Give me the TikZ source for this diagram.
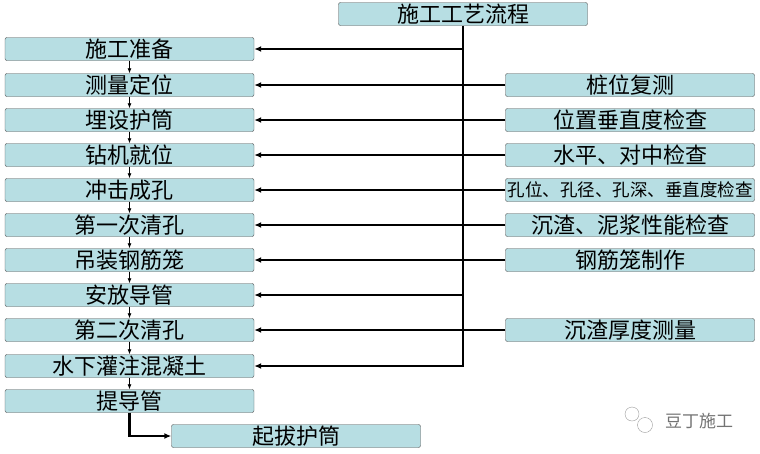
\documentclass[tikz,border=0pt]{standalone}
\usepackage{fontspec}
\usetikzlibrary{arrows.meta}
\newfontfamily\cjk{Noto Sans CJK SC}
\definecolor{boxblue}{RGB}{183,222,227}

\tikzset{
  box/.style={draw=black!70,rounded corners=2pt,fill=boxblue,
    minimum width=249,minimum height=23,inner sep=0pt,
    font=\cjk\fontsize{22}{22}\selectfont},
  main/.style={line width=2.3pt,-{Latex[length=7pt,width=6pt]}},
  thin/.style={line width=0.8pt,-{Latex[length=5pt,width=4pt]}}
}

\begin{document}
\begin{tikzpicture}[x=1pt,y=-1pt]
\useasboundingbox (0,0) rectangle (760,453);
\node[box] (top) at (463,14) {施工工艺流程};
\foreach \y/\n/\t in {49/1/施工准备, 85/2/测量定位, 120/3/埋设护筒,
                      155/4/钻机就位, 190/5/冲击成孔, 225/6/第一次清孔,
                      260/7/吊装钢筋笼, 295/8/安放导管, 330/9/第二次清孔,
                      366/10/水下灌注混凝土, 401/11/提导管}
    \node[box] (p\n) at (129.5,\y) {\t};
\node[box] (p12) at (296,436) {起拔护筒};
\foreach \y/\n/\t in {85/2/桩位复测, 120/3/位置垂直度检查, 155/4/水平、对中检查,
                      225/6/沉渣、泥浆性能检查, 260/7/钢筋笼制作, 330/9/沉渣厚度测量}
    \node[box] (q\n) at (630,\y) {\t};
\node[box,font=\cjk\fontsize{17.5}{17.5}\selectfont] (q5) at (630,190)
    {孔位、孔径、孔深、垂直度检查};
% main line
\draw[main] (top.south) -- (top |- p10) -- (p10.east);
\foreach \n in {1,8}
    \draw[main] (top |- p\n) -- (p\n.east);
\foreach \n in {2,...,7,9}
    \draw[main] (q\n.west) -- (p\n.east);
% steps
\foreach \a/\b in {1/2, 2/3, 3/4, 4/5, 5/6, 6/7, 7/8, 8/9, 9/10, 10/11}
    \draw[thin] (p\a.south) -- (p\b.north);
\draw[main] (p11.south) |- (p12.west);
% mark
\draw[black!40] (632,414) circle (7) (645,425) circle (7.5);
\node[text=black!55,font=\cjk\fontsize{17}{17}\selectfont] (mark) at (699,421) {豆丁施工};
\end{tikzpicture}
\end{document}
